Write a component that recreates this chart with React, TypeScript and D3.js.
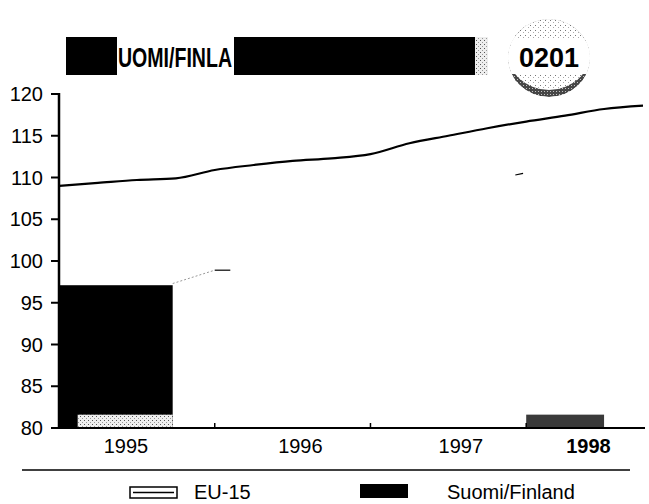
import React from "react";
import * as d3 from "d3";

// ---- data ----
const yTicks = [80, 85, 90, 95, 100, 105, 110, 115, 120];
const yearLabels = ["1995", "1996", "1997", "1998"];
const yearLabelPos = [1995.43, 1996.55, 1997.58, 1998.4];
const yearBoundaries = [1996, 1997, 1998];

// EU-15 index (line)
const euTime = [1995.0, 1995.25, 1995.5, 1995.75, 1996.0, 1996.25, 1996.5, 1996.75, 1997.0, 1997.25, 1997.5, 1997.75, 1998.0, 1998.25, 1998.5, 1998.75];
const euValue = [109.0, 109.35, 109.7, 109.9, 110.9, 111.5, 112.0, 112.3, 112.8, 114.1, 115.0, 115.9, 116.7, 117.4, 118.2, 118.6];

// Suomi/Finland (bars, partly faded in the scan)
const finStart = [1995.0, 1998.0];
const finEnd = [1995.73, 1998.5];
const finValue = [97.1, 81.6];
const finFill = ["#000", "#3a3a3a"];

// faint remains of Finland trace
const traceTime = [1995.73, 1996.0];
const traceValue = [97.3, 98.9];
const dashTime = [1996.0, 1996.1];
const dashValue = [98.9, 98.9];
const dash2Time = [1997.93, 1997.98];
const dash2Value = [110.3, 110.5];

const titleText = "UOMI/FINLA";
const codeText = "0201";
const legendLabels = ["EU-15", "Suomi/Finland"];

const FONT = "'Liberation Sans', Arial, Helvetica, sans-serif";

export default function App() {
  const W = 649;
  const H = 504;
  const x = d3.scaleLinear().domain([1995, 1998.75]).range([59, 643]);
  const y = d3.scaleLinear().domain([80, 120]).range([428, 94]);

  const line = d3
    .line<number>()
    .x((_, i) => x(euTime[i]))
    .y((d) => y(d))
    .curve(d3.curveMonotoneX);

  const trace = d3
    .line<number>()
    .x((_, i) => x(traceTime[i]))
    .y((d) => y(d));
  const dash = d3
    .line<number>()
    .x((_, i) => x(dashTime[i]))
    .y((d) => y(d));
  const dash2 = d3
    .line<number>()
    .x((_, i) => x(dash2Time[i]))
    .y((d) => y(d));

  return (
    <svg
      width={W}
      height={H}
      style={{ position: "absolute", left: 0, top: 0, background: "#fff" }}
      fontFamily={FONT}
    >
      <defs>
        <pattern id="speck" width="4" height="4" patternUnits="userSpaceOnUse">
          <rect width="4" height="4" fill="#eee" />
          <rect x="0" y="0" width="1" height="1" fill="#555" />
          <rect x="2" y="2" width="1" height="1" fill="#999" />
        </pattern>
        <pattern id="speckLight" width="5" height="5" patternUnits="userSpaceOnUse">
          <rect width="5" height="5" fill="#fff" />
          <rect x="0" y="0" width="1" height="1" fill="#777" />
          <rect x="3" y="2" width="1" height="1" fill="#aaa" />
        </pattern>
        <pattern id="speckDark" width="3" height="3" patternUnits="userSpaceOnUse">
          <rect width="3" height="3" fill="#333" />
          <rect x="1" y="1" width="1" height="1" fill="#bbb" />
        </pattern>
        <clipPath id="discClip">
          <ellipse cx={549} cy={58} rx={41} ry={39} />
        </clipPath>
      </defs>

      {/* disc behind code */}
      <g clipPath="url(#discClip)">
        <rect x={505} y={15} width={90} height={90} fill="url(#speckLight)" />
        <ellipse cx={549} cy={58} rx={41} ry={39} fill="url(#speckDark)" opacity={0.9} />
        <ellipse cx={549} cy={51} rx={42} ry={39} fill="url(#speckLight)" />
        <rect x={505} y={38} width={90} height={36} fill="#fff" />
      </g>

      {/* title banner */}
      <rect x={66} y={37} width={409} height={38} fill="#000" />
      <rect x={475} y={37} width={13} height={38} fill="url(#speck)" />
      <rect x={117} y={37} width={117} height={38} fill="#fff" />
      <text
        x={118}
        y={67}
        fontSize={27}
        fontWeight="bold"
        fill="#000"
        textLength={114}
        lengthAdjust="spacingAndGlyphs"
      >
        {titleText}
      </text>
      <text x={549} y={67} fontSize={27} fontWeight="bold" textAnchor="middle" fill="#000">
        {codeText}
      </text>

      {/* Finland bars */}
      {finValue.map((v, i) => (
        <rect
          key={i}
          x={x(finStart[i])}
          y={y(v)}
          width={x(finEnd[i]) - x(finStart[i])}
          height={y(80) - y(v)}
          fill={finFill[i]}
        />
      ))}
      <rect
        x={x(1995.12)}
        y={y(81.6)}
        width={x(finEnd[0]) - x(1995.12)}
        height={y(80) - y(81.6)}
        fill="url(#speck)"
      />

      {/* faint trace remains */}
      <path d={trace(traceValue) || ""} fill="none" stroke="#999" strokeWidth={1} strokeDasharray="2 2" />
      <path d={dash(dashValue) || ""} fill="none" stroke="#000" strokeWidth={1.2} />
      <path d={dash2(dash2Value) || ""} fill="none" stroke="#000" strokeWidth={1.2} />

      {/* EU-15 line */}
      <path d={line(euValue) || ""} fill="none" stroke="#000" strokeWidth={2.2} />

      {/* y axis */}
      <line x1={x(1995)} x2={x(1995)} y1={y(120) - 1} y2={y(80)} stroke="#000" strokeWidth={2.5} />
      {yTicks.map((t) => (
        <g key={t}>
          <line x1={x(1995) - 8} x2={x(1995)} y1={y(t)} y2={y(t)} stroke="#000" strokeWidth={2} />
          <text x={43} y={y(t)} dy="0.36em" fontSize={20} textAnchor="end" fill="#000">
            {t}
          </text>
        </g>
      ))}

      {/* x axis */}
      <line x1={x(1995) - 1} x2={645} y1={y(80)} y2={y(80)} stroke="#000" strokeWidth={2} />
      {yearBoundaries.map((b) => (
        <line key={b} x1={x(b)} x2={x(b)} y1={y(80)} y2={y(80) - 5} stroke="#000" strokeWidth={1.5} />
      ))}
      {yearLabels.map((l, i) => (
        <text
          key={l}
          x={x(yearLabelPos[i])}
          y={453}
          fontSize={20}
          textAnchor="middle"
          fontWeight={i === yearLabels.length - 1 ? "bold" : "normal"}
          fill="#000"
        >
          {l}
        </text>
      ))}

      {/* separator */}
      <line x1={22} x2={630} y1={470} y2={470} stroke="#000" strokeWidth={1.5} />

      {/* legend */}
      <rect x={130} y={487} width={47} height={11} fill="#fff" stroke="#000" strokeWidth={1.5} />
      <line x1={133} x2={174} y1={492.5} y2={492.5} stroke="#000" strokeWidth={1.5} />
      <text x={194} y={499} fontSize={20} fill="#000">
        {legendLabels[0]}
      </text>
      <rect x={360} y={484} width={48} height={14} fill="#000" />
      <text x={447} y={499} fontSize={20} fill="#000">
        {legendLabels[1]}
      </text>
    </svg>
  );
}
